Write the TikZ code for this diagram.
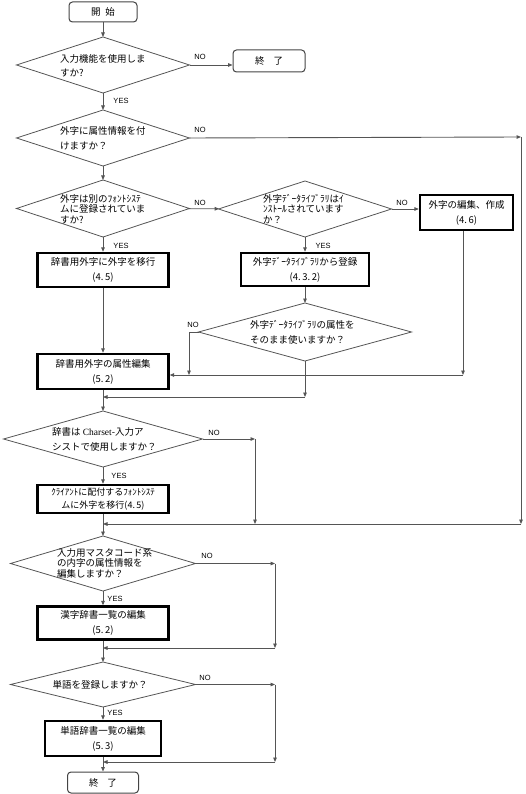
\documentclass[tikz,border=0pt]{standalone}
\usepackage{fontspec}
\usetikzlibrary{shapes.geometric,arrows.meta}
\newfontfamily\jp{Noto Sans CJK JP}
\newfontfamily\lat{Liberation Sans}
\newfontfamily\serifen{Liberation Serif}
\definecolor{lg}{HTML}{555555}
\definecolor{dg}{HTML}{444444}
\begin{document}
\begin{tikzpicture}[x=1pt,y=-1pt,
  every node/.style={font=\jp\fontsize{9.5}{15}\selectfont},
  ln/.style={draw=lg, line width=0.9pt},
  arr/.style={ln, -{Triangle[length=4.5pt,width=3.6pt]}},
  dia/.style={diamond, draw=lg, line width=0.8pt, inner sep=0pt, outer sep=0pt},
  pbox/.style={rectangle, draw=black, line width=2.4pt, inner sep=0pt, align=center},
  term/.style={rectangle, rounded corners=3.5pt, draw=dg, line width=1pt, inner sep=0pt},
  dtext/.style={anchor=west, align=left, inner sep=0pt},
  dtight/.style={dtext, font=\jp\fontsize{9.5}{10.5}\selectfont},
  yn/.style={font=\lat\fontsize{7.5}{8}\selectfont, inner sep=0pt}
]
\useasboundingbox (0,0) rectangle (525,794);

% nodes
\node[term, minimum width=68pt, minimum height=20pt] (start) at (103,12) {開\hspace{5pt}始};
\node[dia, minimum width=173pt, minimum height=56pt] (d1) at (103,65) {};
\node[dtext, font=\jp\fontsize{9.5}{14}\selectfont] (t1) at (60,66) {入力機能を使用しま\\すか?};
\node[term, minimum width=72pt, minimum height=22pt] (end1) at (269,61) {終\hspace{9pt}了};

\node[dia, minimum width=173pt, minimum height=56pt] (d2) at (103,138) {};
\node[dtext] (t2) at (60,138) {外字に属性情報を付\\けますか？};

\node[dia, minimum width=173pt, minimum height=57pt] (d3) at (103,208.5) {};
\node[dtight] (t3) at (60,209) {外字は別のﾌｫﾝﾄｼｽﾃ\\ムに登録されていま\\すか?};

\node[dia, minimum width=173pt, minimum height=56pt] (d4) at (305,209) {};
\node[dtight] (t4) at (263,209) {外字ﾃﾞｰﾀﾗｲﾌﾞﾗﾘはｲ\\ﾝｽﾄｰﾙされています\\か？};

\node[pbox, minimum width=131pt, minimum height=34pt] (b1) at (103,270) {辞書用外字に外字を移行\\(4.\,5)};
\node[pbox, minimum width=128pt, minimum height=33pt] (b2) at (305,269.5) {外字ﾃﾞｰﾀﾗｲﾌﾞﾗﾘから登録\\(4.\,3.\,2)};
\node[pbox, minimum width=93pt, minimum height=35pt] (b3) at (466.5,212.5) {外字の編集、作成\\(4.\,6)};

\node[dia, minimum width=213pt, minimum height=58pt] (d5) at (305,332) {};
\node[dtext] (t5) at (250,332.5) {外字ﾃﾞｰﾀﾗｲﾌﾞﾗﾘの属性を\\そのまま使いますか？};

\node[pbox, minimum width=131pt, minimum height=35pt] (b4) at (103,371.5) {辞書用外字の属性編集\\(5.\,2)};

\node[dia, minimum width=199pt, minimum height=56pt] (d6) at (103,439) {};
\node[dtext] (t6) at (52,439.5) {辞書は {\serifen Charset}-入力ア\\シストで使用しますか？};

\node[pbox, minimum width=131pt, minimum height=28pt, font=\jp\fontsize{9}{13}\selectfont] (b5) at (103,499) {ｸﾗｲｱﾝﾄに配付するﾌｫﾝﾄｼｽﾃ\\ムに外字を移行(4.\,5)};

\node[dia, minimum width=185pt, minimum height=55pt] (d7) at (103,563.5) {};
\node[dtight] (t7) at (57,563) {入力用マスタコード系\\の内字の属性情報を\\編集しますか？};

\node[pbox, minimum width=131pt, minimum height=33pt] (b6) at (103,623) {漢字辞書一覧の編集\\(5.\,2)};

\node[dia, minimum width=185pt, minimum height=45pt] (d8) at (103,684.5) {};
\node[inner sep=0pt] (t8) at (100,685) {単語を登録しますか？};

\node[pbox, minimum width=116pt, minimum height=35pt] (b7) at (103,738.5) {単語辞書一覧の編集\\(5.\,3)};
\node[term, minimum width=71pt, minimum height=21pt] (end2) at (103,782.5) {終\hspace{9pt}了};

% junction coordinates
\coordinate (r1) at (521,137);
\coordinate (r2) at (521,524);
\coordinate (m5) at (103,524);
\coordinate (c5) at (189,375);
\coordinate (j1) at (463,375);
\coordinate (j2) at (305,397);
\coordinate (m4) at (103,397);
\coordinate (n6) at (255,439);
\coordinate (s6) at (255,524);
\coordinate (n7) at (275,563.5);
\coordinate (s7) at (275,648);
\coordinate (m7) at (103,648);
\coordinate (n8) at (275,684.5);
\coordinate (s8) at (275,762);
\coordinate (m8) at (103,762);

% connectors
\draw[arr] (start) -- (d1);
\draw[arr] (d1.east) -- (d1.east -| end1.west);
\draw[arr] (d1) -- (d2);
\draw[arr] (d2.east) -- (r1);
\draw[arr] (r1) -- (r2);
\draw[arr] (r2) -- (m5);
\draw[arr] (d2) -- (d3);
\draw[arr] (d3) -- (d4);
\draw[arr] (d3) -- (b1);
\draw[arr] (d4) -- (b3.west |- d4.east);
\draw[arr] (d4) -- (b2);
\draw[arr] (b1) -- (b4);
\draw[arr] (b2) -- (d5);
\draw[arr] (d5.west) -| (c5);
\draw[arr] ([xshift=-3.5pt]b3.south) -- (j1);
\draw[arr] (j1) -- (j1 -| b4.east);
\draw[arr] (d5.south) -- (j2);
\draw[arr] (j2) -- (m4);
\draw[arr] (b4) -- (d6);
\draw[arr] (d6.east) -- (n6);
\draw[arr] (n6) -- (s6);
\draw[arr] (d6) -- (b5);
\draw[arr] (b5) -- (d7);
\draw[arr] (d7.east) -- (n7);
\draw[arr] (n7) -- (s7);
\draw[arr] (s7) -- (m7);
\draw[arr] (d7) -- (b6);
\draw[arr] (b6) -- (d8);
\draw[arr] (d8.east) -- (n8);
\draw[arr] (n8) -- (s8);
\draw[arr] (s8) -- (m8);
\draw[arr] (d8) -- (b7);
\draw[arr] (b7) -- (end2);

% labels
\node[yn] (l1) at (200,57) {NO};
\node[yn] (l2) at (121,101) {YES};
\node[yn] (l3) at (200,130) {NO};
\node[yn] (l4) at (200,203) {NO};
\node[yn] (l5) at (121,246) {YES};
\node[yn] (l6) at (402,203) {NO};
\node[yn] (l7) at (323,246) {YES};
\node[yn] (l8) at (193,325) {NO};
\node[yn] (l9) at (214,433) {NO};
\node[yn] (l10) at (119,476) {YES};
\node[yn] (l11) at (207,556) {NO};
\node[yn] (l12) at (115,599) {YES};
\node[yn] (l13) at (205,678) {NO};
\node[yn] (l14) at (115,713) {YES};
\end{tikzpicture}
\end{document}
